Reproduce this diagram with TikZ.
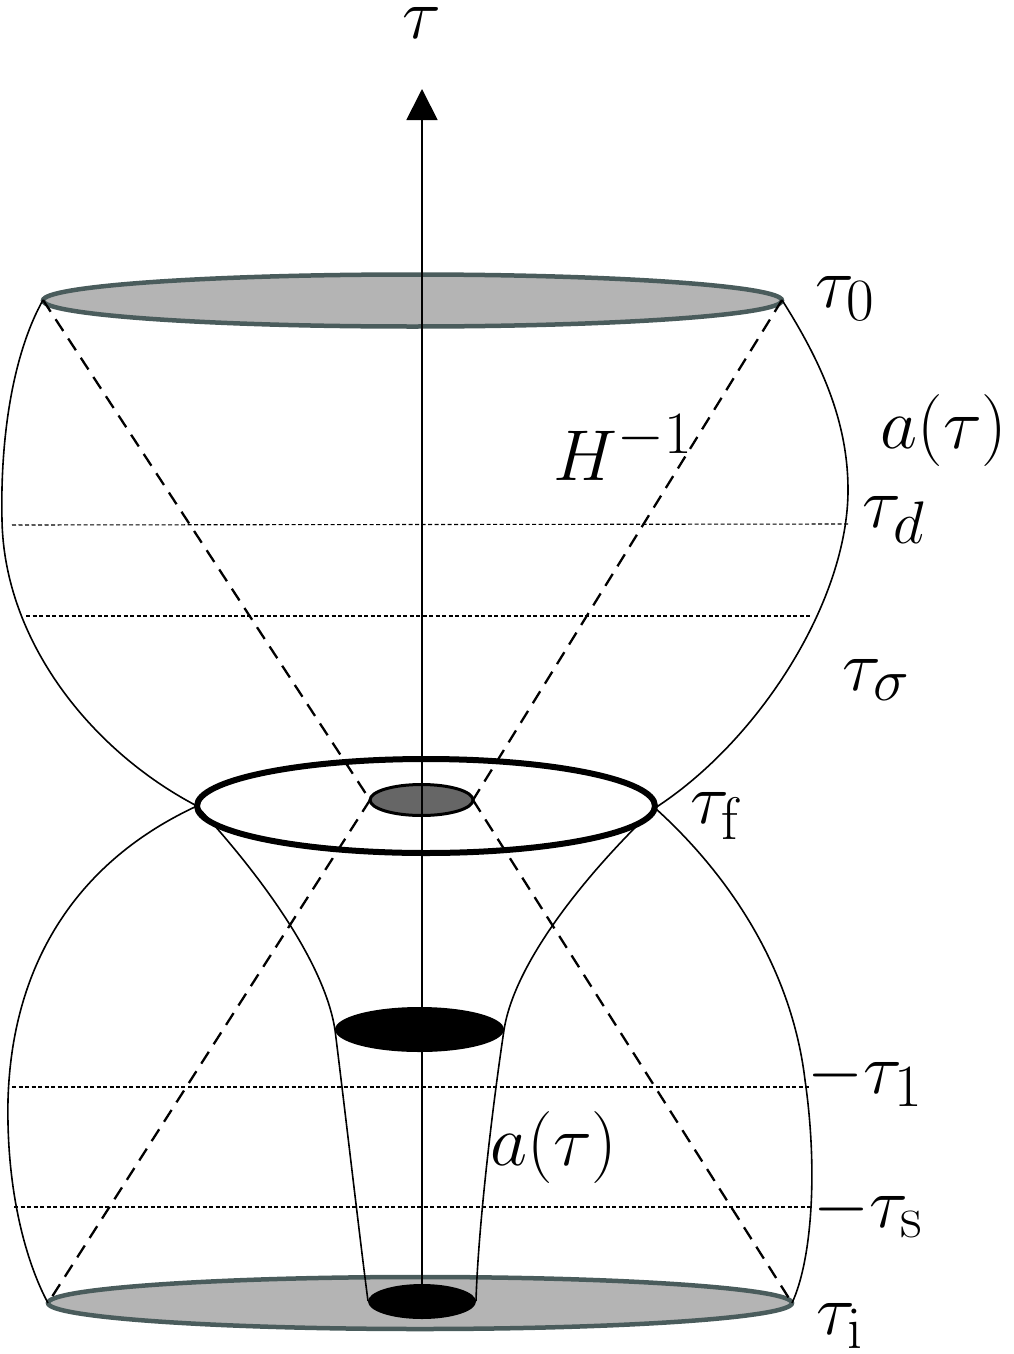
\documentclass[tikz,border=0pt]{standalone}
\usetikzlibrary{arrows.meta}
\definecolor{discfill}{RGB}{180,180,180}
\definecolor{discedge}{RGB}{74,92,92}
\definecolor{throat}{RGB}{102,102,102}
\tikzset{
  lbl/.style={font=\Huge, scale=2.894, inner sep=0pt, anchor=base west},
  shell/.style={line width=1.6pt},
  cone/.style={line width=2.3pt, dash pattern=on 14pt off 9pt},
  level/.style={line width=1.1pt, dash pattern=on 4pt off 2.5pt},
  disc/.style={fill=discfill, draw=discedge, line width=4.5pt},
}
\begin{document}
\begin{tikzpicture}[x=1pt,y=-1pt]
\useasboundingbox (0,0) rectangle (1014,1354);

% discs
\draw[disc] (412.5,300.5) ellipse [x radius=369.5pt, y radius=26pt];
\draw[disc] (420,1303) ellipse [x radius=372pt, y radius=26pt];

% key points
\coordinate (TL) at (43,300);
\coordinate (TR) at (782,300);
\coordinate (BL) at (48,1303);
\coordinate (BR) at (792,1303);
\coordinate (FL) at (197,806);
\coordinate (FR) at (655,808);
\coordinate (GL) at (370,800);
\coordinate (GR) at (473,800);
\coordinate (SL) at (368,1301);
\coordinate (SR) at (476,1301);
\coordinate (ML) at (335,1030);
\coordinate (MR) at (504,1030);

% level lines
\draw[level] (12,525) -- (848,524);
\draw[level] (26,616) -- (812,616);
\draw[level] (12,1087) -- (810,1087);
\draw[level] (14,1207) -- (813,1207);

% light cones
\draw[cone] (TL) -- (GL);
\draw[cone] (TR) -- (GR);
\draw[cone] (GL) -- (BL);
\draw[cone] (GR) -- (BR);

% upper shell
\draw[shell] (TL) .. controls (15,350) and (0,430) .. (2,520)
  .. controls (4,640) and (90,750) .. (FL);
\draw[shell] (TR) .. controls (820,360) and (848,420) .. (848,490)
  .. controls (848,600) and (760,740) .. (FR);
% lower shell
\draw[shell] (FL) .. controls (80,860) and (12,960) .. (8,1100)
  .. controls (6,1200) and (30,1270) .. (BL);
\draw[shell] (FR) .. controls (715,862) and (790,955) .. (805,1080)
  .. controls (818,1170) and (812,1260) .. (BR);
% funnel
\draw[shell] (FL) .. controls (265,880) and (325,965) .. (ML)
  .. controls (345,1110) and (360,1240) .. (SL);
\draw[shell] (FR) .. controls (590,870) and (515,960) .. (MR)
  .. controls (492,1110) and (478,1230) .. (SR);

% throat ellipses
\draw[line width=6pt] (426,806) ellipse [x radius=229pt, y radius=47pt];
\draw[fill=throat, line width=3pt] (421.5,800) ellipse [x radius=51.5pt, y radius=15.5pt];
\fill (419.5,1029.5) ellipse [x radius=84.5pt, y radius=22.5pt];
\fill (422,1301.5) ellipse [x radius=54pt, y radius=17.5pt];

% axis
\coordinate (axbot) at (422,1284);
\coordinate (axtop) at (422,89);
\draw[line width=1.8pt, -{Triangle[length=31pt,width=31pt]}] (axbot) -- (axtop);

% labels
\node[lbl, anchor=base] (tau) at (422,39) {$\tau$};
\node[lbl] (t0) at (815,307) {$\tau_{0}$};
\node[lbl] (a1) at (880,448) {$a(\tau)$};
\node[lbl] (H) at (553,480) {$H^{-1}$};
\node[lbl] (td) at (862,527) {$\tau_d$};
\node[lbl] (tsig) at (842,690) {$\tau_\sigma$};
\node[lbl] (tf) at (690,823) {$\tau_{\mathrm{f}}$};
\node[lbl] (t1) at (807,1093) {$-\tau_1$};
\node[lbl] (a2) at (490,1165) {$a(\tau)$};
\node[lbl] (tsm) at (813,1227) {$-\tau_{\mathrm{s}}$};
\node[lbl] (ti) at (816,1334) {$\tau_{\mathrm{i}}$};
\end{tikzpicture}
\end{document}
